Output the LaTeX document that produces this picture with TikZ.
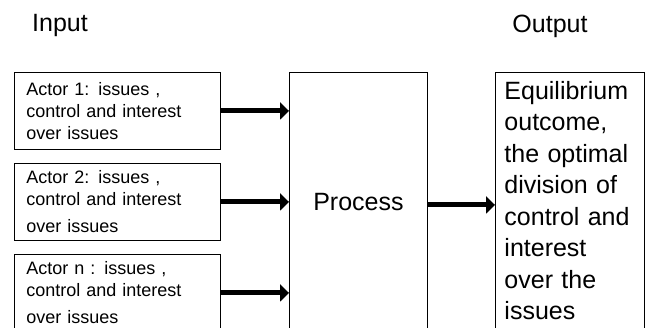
\documentclass[tikz,border=0pt]{standalone}
\usepackage{fontspec}
\setmainfont{Liberation Sans}
\usetikzlibrary{arrows.meta}

\begin{document}
\begin{tikzpicture}[x=1pt, y=-1pt,
  box/.style={draw, line width=0.9pt, rectangle},
  actor/.style={box, anchor=north west, minimum width=206pt, minimum height=77pt,
    text width=182pt, inner xsep=12pt, align=left,
    font=\fontsize{18}{22}\selectfont},
  big/.style={font=\fontsize{25}{31.5}\selectfont},
  feed/.style={line width=5pt, -{Triangle[length=9pt, width=17pt]}}]
  \useasboundingbox (0,0) rectangle (645,327);
  \clip (0,0) rectangle (645,327);

  % headings
  \node[big] (inp) at (60,25) {Input};
  \node[big] (outp) at (550,26) {Output};

  % actors on the left
  \node[actor] (a1) at (14,72) {Actor 1: issues ,\\ control and interest\\ over issues};
  \node[actor] (a2) at (14,163) {Actor 2: issues ,\\ control and interest\\[5pt] over issues};
  \node[actor] (an) at (14,254) {Actor n : issues ,\\ control and interest\\[5pt] over issues};

  % process and result (run past the lower edge)
  \node[box, big, anchor=north west, minimum width=138pt, minimum height=259pt]
    (proc) at (289,72) {Process};
  \node[box, big, anchor=north west, minimum width=149pt, minimum height=256pt,
    text width=131pt, inner xsep=9pt, align=left] (out) at (495,72)
    {Equilibrium\\ outcome,\\ the optimal\\ division of\\ control and\\ interest\\ over the\\ issues};

  \draw[feed] (a1.east) -- (a1.east -| proc.west);
  \draw[feed] (a2.east) -- (a2.east -| proc.west);
  \draw[feed] (an.east) -- (an.east -| proc.west);
  \draw[feed] ([yshift=-3pt]proc.east) -- ([yshift=-3pt]proc.east -| out.west);
\end{tikzpicture}
\end{document}
